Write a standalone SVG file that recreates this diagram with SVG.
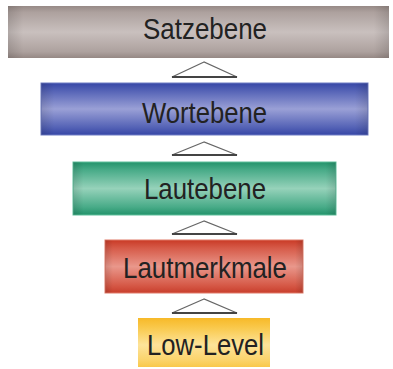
<svg xmlns="http://www.w3.org/2000/svg" width="393" height="369" viewBox="0 0 393 369">
<defs>
<linearGradient id="gGray" x1="0" y1="0" x2="0" y2="1">
<stop offset="0" stop-color="#978a86"/><stop offset="0.12" stop-color="#ada19e"/><stop offset="0.5" stop-color="#c9c0be"/><stop offset="0.88" stop-color="#ada19e"/><stop offset="1" stop-color="#958884"/>
</linearGradient>
<linearGradient id="gBlue" x1="0" y1="0" x2="0" y2="1">
<stop offset="0" stop-color="#3646a6"/><stop offset="0.15" stop-color="#5563b6"/><stop offset="0.5" stop-color="#9aa0d6"/><stop offset="0.85" stop-color="#5563b6"/><stop offset="1" stop-color="#3646a6"/>
</linearGradient>
<linearGradient id="gGreen" x1="0" y1="0" x2="0" y2="1">
<stop offset="0" stop-color="#23936b"/><stop offset="0.15" stop-color="#48ab88"/><stop offset="0.5" stop-color="#96d2ba"/><stop offset="0.85" stop-color="#48ab88"/><stop offset="1" stop-color="#23936b"/>
</linearGradient>
<linearGradient id="gRed" x1="0" y1="0" x2="0" y2="1">
<stop offset="0" stop-color="#c93a26"/><stop offset="0.15" stop-color="#d65a48"/><stop offset="0.5" stop-color="#e9978b"/><stop offset="0.85" stop-color="#d65a48"/><stop offset="1" stop-color="#c83e2c"/>
</linearGradient>
<linearGradient id="gYellow" x1="0" y1="0" x2="0" y2="1">
<stop offset="0" stop-color="#f7b928"/><stop offset="0.2" stop-color="#f9c94c"/><stop offset="0.55" stop-color="#fde39a"/><stop offset="0.85" stop-color="#fbd46c"/><stop offset="1" stop-color="#f9c84a"/>
</linearGradient>
<linearGradient id="gSide" x1="0" y1="0" x2="1" y2="0">
<stop offset="0" stop-color="#000" stop-opacity="0.12"/><stop offset="0.04" stop-color="#000" stop-opacity="0"/><stop offset="0.96" stop-color="#000" stop-opacity="0"/><stop offset="1" stop-color="#000" stop-opacity="0.12"/>
</linearGradient>
</defs>
<style>
.lbl{font-family:"Liberation Sans","Arial",sans-serif;font-size:29px;fill:#222;text-anchor:start}
.tri{fill:#fff;stroke:#666;stroke-width:1.3;stroke-linejoin:miter}
.base{stroke:#444;stroke-width:2}
.side{fill:url(#gSide)}
</style>
<rect width="393" height="369" fill="#fff"/>
<g id="connectors">
<polygon class="tri" points="204,62 172,77 237,77"/><line class="base" x1="172" y1="77" x2="237" y2="77"/>
<polygon class="tri" points="204,142 172,155 237,155"/><line class="base" x1="172" y1="155" x2="237" y2="155"/>
<polygon class="tri" points="204,221 172,234 237,234"/><line class="base" x1="172" y1="234" x2="237" y2="234"/>
<polygon class="tri" points="204,299 172,313 237,313"/><line class="base" x1="172" y1="313" x2="237" y2="313"/>
</g>
<g id="satzebene">
<rect x="8" y="6" width="381" height="52" fill="url(#gGray)"/>
<rect class="side" x="8" y="6" width="381" height="52"/>
<text class="lbl" x="143" y="39" textLength="124" lengthAdjust="spacingAndGlyphs">Satzebene</text>
</g>
<g id="wortebene">
<rect x="41" y="83" width="327" height="52" fill="url(#gBlue)" stroke="#6f7cc4" stroke-width="1"/>
<rect class="side" x="41" y="83" width="327" height="52"/>
<text class="lbl" x="142" y="123" textLength="125" lengthAdjust="spacingAndGlyphs">Wortebene</text>
</g>
<g id="lautebene">
<rect x="73" y="162" width="263" height="53" fill="url(#gGreen)" stroke="#5fbf9c" stroke-width="1"/>
<rect class="side" x="73" y="162" width="263" height="53"/>
<text class="lbl" x="144" y="199" textLength="122" lengthAdjust="spacingAndGlyphs">Lautebene</text>
</g>
<g id="lautmerkmale">
<rect x="105" y="240" width="198" height="53" fill="url(#gRed)" stroke="#e07a68" stroke-width="1"/>
<rect class="side" x="105" y="240" width="198" height="53"/>
<text class="lbl" x="123" y="278" textLength="164" lengthAdjust="spacingAndGlyphs">Lautmerkmale</text>
</g>
<g id="lowlevel">
<rect x="138" y="318" width="132" height="49" fill="url(#gYellow)"/>
<text class="lbl" x="147" y="355" textLength="117" lengthAdjust="spacingAndGlyphs">Low-Level</text>
</g>
</svg>
